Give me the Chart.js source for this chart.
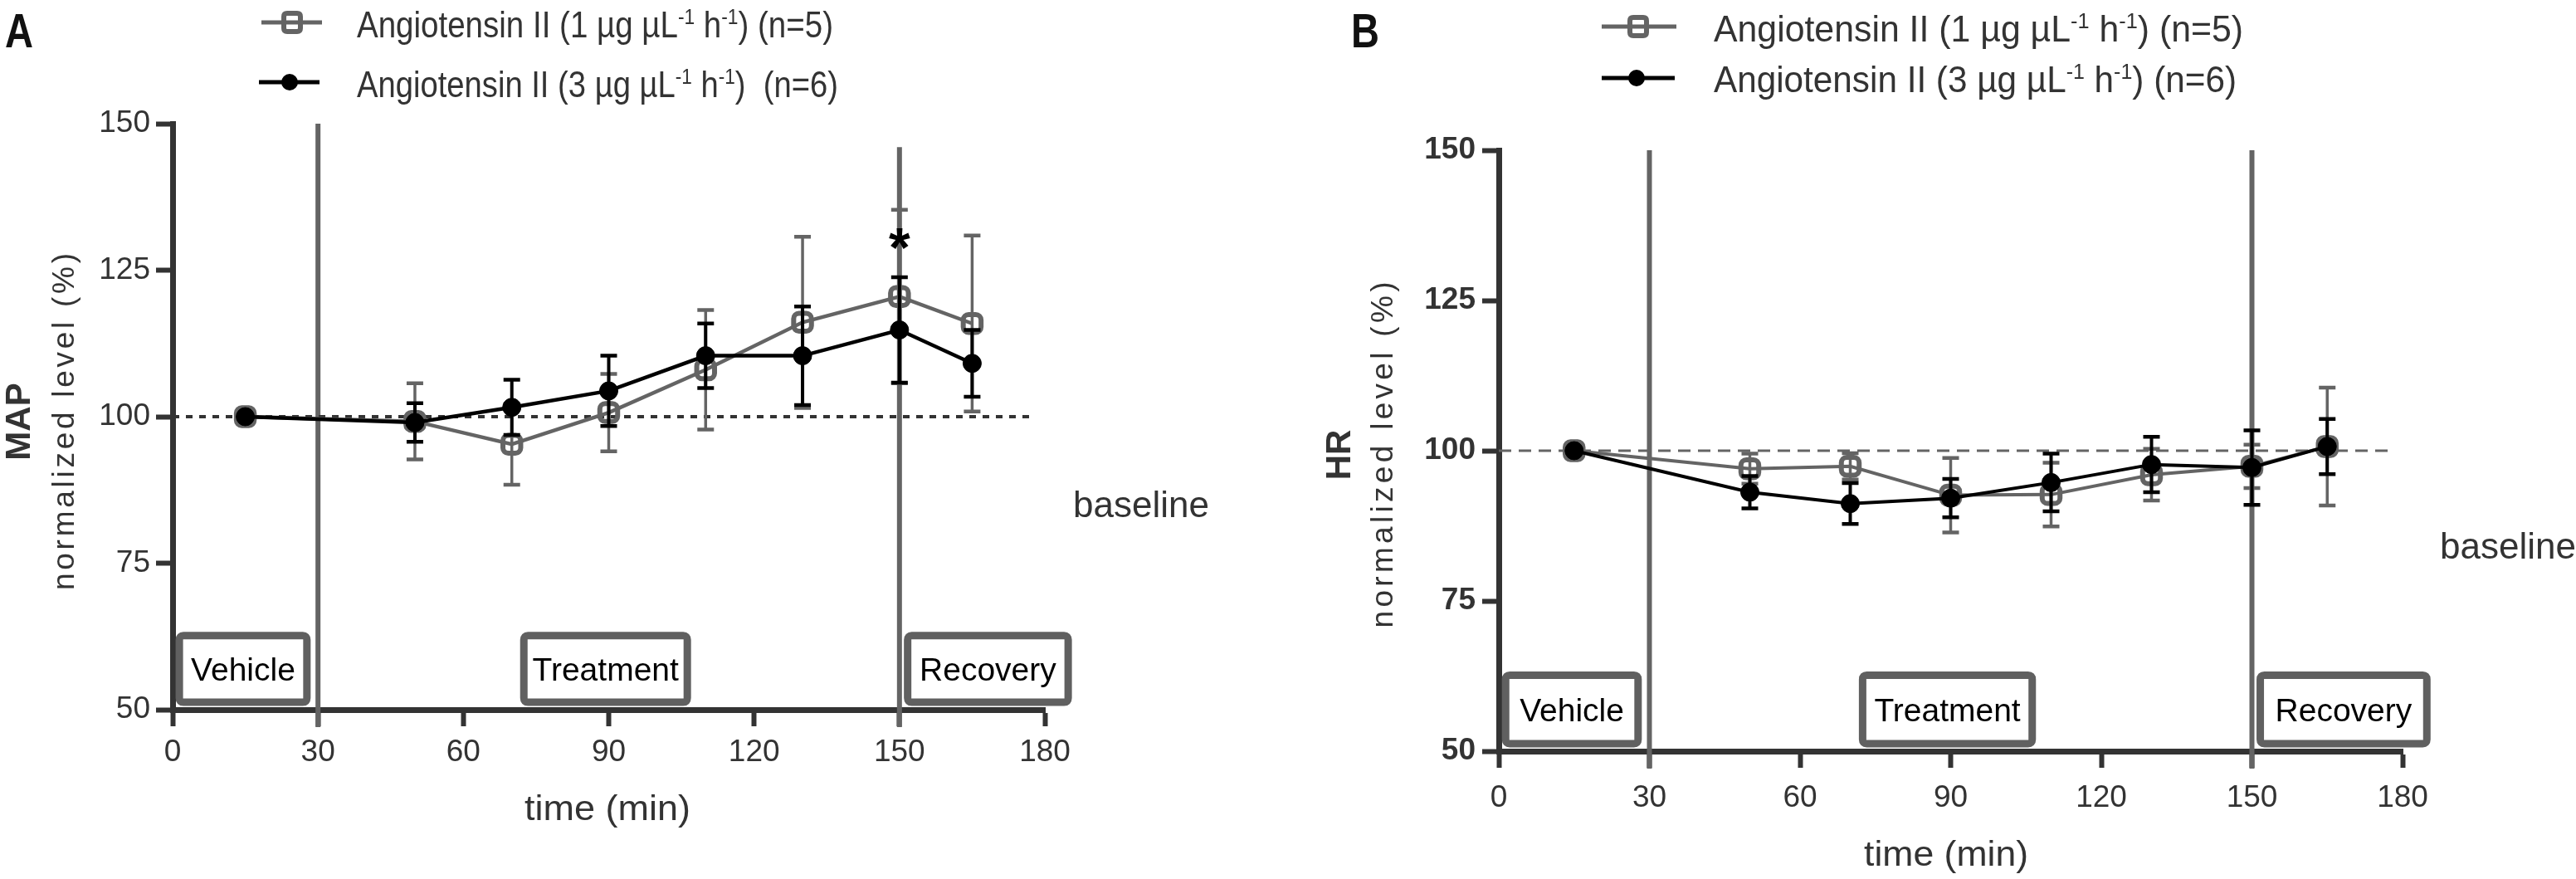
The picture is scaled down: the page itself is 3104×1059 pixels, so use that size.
<!DOCTYPE html>
<html><head><meta charset="utf-8">
<script src="https://cdn.jsdelivr.net/npm/chart.js@4.4.1/dist/chart.umd.min.js"></script>
<style>
html,body{margin:0;padding:0;background:#fff;width:3104px;height:1059px;overflow:hidden}
.wrap{position:absolute;top:0;width:1552px;height:1059px}
#wrapA{left:0}
#wrapB{left:1552px}
canvas{display:block}
</style></head><body>
<div class="wrap" id="wrapA"><canvas id="cA" width="1552" height="1059"></canvas></div>
<div class="wrap" id="wrapB"><canvas id="cB" width="1552" height="1059"></canvas></div>
<script>
// ---------- data ----------
const times = [15, 50, 70, 90, 110, 130, 150, 165];
const xTicks = [0, 30, 60, 90, 120, 150, 180];
const yTicks = [50, 75, 100, 125, 150];

// Panel A: MAP
const mapLow = [100, 99.2, 95.3, 100.7, 108.0, 116.1, 120.5, 115.9];
const mapLowSem = [0, 6.5, 6.9, 6.6, 10.2, 14.6, 14.8, 15.0];
const mapHigh = [100, 99.0, 101.6, 104.4, 110.4, 110.4, 114.8, 109.1];
const mapHighSem = [0, 3.3, 4.7, 6.0, 5.5, 8.4, 9.0, 5.7];

// Panel B: HR
const hrLow = [100, 97.0, 97.4, 92.6, 92.7, 96.0, 97.4, 100.7];
const hrLowSem = [0, 2.5, 2.2, 6.2, 5.3, 4.3, 3.6, 9.8];
const hrHigh = [100, 93.1, 91.2, 92.1, 94.7, 97.7, 97.2, 100.7];
const hrHighSem = [0, 2.7, 3.4, 3.2, 4.8, 4.6, 6.2, 4.6];

const labelsA = ['Angiotensin II (1 µg µL⁻¹ h⁻¹) (n=5)', 'Angiotensin II (3 µg µL⁻¹ h⁻¹)  (n=6)'];
const labelsB = ['Angiotensin II (1 µg µL⁻¹ h⁻¹) (n=5)', 'Angiotensin II (3 µg µL⁻¹ h⁻¹) (n=6)'];

const phaseNames = ['Vehicle', 'Treatment', 'Recovery'];
const phaseStart = [0.7, 71.8, 151.0];
const phaseEnd = [28.4, 106.9, 185.5];
const phaseBoxLow = 50.7, phaseBoxHigh = 63.2;
const phaseBoundaries = [30, 150];
const boundaryTopA = [150, 146];
const boundaryTopB = [150, 150];

const baselineX = [0, 178];
const baselineY = 100;
const sigTimes = [150];
const sigValues = [130.4];

// ---------- styles ----------
const GRAY = '#646464';
const DARK = '#333333';
const narrow = "'Liberation Sans Narrow', 'Liberation Sans', Arial, sans-serif";
const sans = "'Liberation Sans', Arial, sans-serif";

function richRuns(label) {
  const supMap = {'⁻': '-', '¹': '1'};
  const runs = []; let cur = '', curSup = false;
  for (const ch of label) {
    const s = ch in supMap; const c = s ? supMap[ch] : ch;
    if (cur && s !== curSup) { runs.push({t: cur, sup: curSup}); cur = ''; }
    curSup = s; cur += c;
  }
  if (cur) runs.push({t: cur, sup: curSup});
  return runs;
}
function drawRich(ctx, label, x, y, xEnd, size, color) {
  const runs = richRuns(label);
  const fN = size + 'px ' + sans, fS = Math.round(size * 0.58) + 'px ' + sans;
  let w = 0;
  runs.forEach(r => { ctx.font = r.sup ? fS : fN; r.w = ctx.measureText(r.t).width; w += r.w; });
  const sx = (xEnd - x) / w;
  ctx.save(); ctx.translate(x, y); ctx.scale(sx, 1);
  ctx.fillStyle = color; ctx.textBaseline = 'alphabetic'; ctx.textAlign = 'left';
  let cx = 0;
  runs.forEach(r => { ctx.font = r.sup ? fS : fN; ctx.fillText(r.t, cx, r.sup ? -size * 0.36 : 0); cx += r.w; });
  ctx.restore();
}
function drawFit(ctx, text, cx, y, width, font, color) {
  ctx.save(); ctx.font = font;
  const w = ctx.measureText(text).width; const sx = width / w;
  ctx.translate(cx - width / 2, y); ctx.scale(sx, 1);
  ctx.fillStyle = color; ctx.textAlign = 'left'; ctx.textBaseline = 'alphabetic';
  ctx.fillText(text, 0, 0); ctx.restore();
}
function drawSpacedVertical(ctx, text, cx, cy, len, font, color) {
  ctx.save(); ctx.font = font; ctx.fillStyle = color;
  ctx.translate(cx, cy); ctx.rotate(-Math.PI / 2);
  const chars = [...text]; const ws = chars.map(c => ctx.measureText(c).width);
  const nat = ws.reduce((a, b) => a + b, 0);
  const sp = chars.length > 1 ? (len - nat) / (chars.length - 1) : 0;
  ctx.textAlign = 'left'; ctx.textBaseline = 'middle';
  let x = -len / 2;
  chars.forEach((c, i) => { ctx.fillText(c, x, 0); x += ws[i] + sp; });
  ctx.restore();
}
function roundRectPath(ctx, x, y, w, h, r) {
  ctx.beginPath();
  ctx.moveTo(x + r, y); ctx.lineTo(x + w - r, y); ctx.quadraticCurveTo(x + w, y, x + w, y + r);
  ctx.lineTo(x + w, y + h - r); ctx.quadraticCurveTo(x + w, y + h, x + w - r, y + h);
  ctx.lineTo(x + r, y + h); ctx.quadraticCurveTo(x, y + h, x, y + h - r);
  ctx.lineTo(x, y + r); ctx.quadraticCurveTo(x, y, x + r, y); ctx.closePath();
}
function drawMarker(ctx, ds, x, y) {
  if (ds.pointStyle === 'circle') {
    ctx.beginPath(); ctx.arc(x, y, 10, 0, Math.PI * 2); ctx.fillStyle = ds.pointBorderColor; ctx.fill();
  } else {
    roundRectPath(ctx, x - 10, y - 11, 20, 22, 4);
    ctx.lineWidth = 6; ctx.strokeStyle = ds.pointBorderColor; ctx.stroke();
  }
}

function makeDeco(p) {
  return {
    id: 'deco' + p.id,
    beforeDatasetsDraw(chart) {
      const ctx = chart.ctx, xs = chart.scales.x, ys = chart.scales.y, ca = chart.chartArea;
      ctx.save();
      phaseNames.forEach((name, i) => {
        const x0 = xs.getPixelForValue(phaseStart[i]), x1 = xs.getPixelForValue(phaseEnd[i]);
        const y0 = ys.getPixelForValue(phaseBoxHigh), y1 = ys.getPixelForValue(phaseBoxLow);
        roundRectPath(ctx, x0 + 4, y0 + 4, x1 - x0 - 8, y1 - y0 - 8, 5);
        ctx.fillStyle = '#fff'; ctx.fill();
        ctx.lineWidth = 9; ctx.strokeStyle = '#606060'; ctx.stroke();
        ctx.fillStyle = '#000'; ctx.font = '39px ' + sans; ctx.textAlign = 'center'; ctx.textBaseline = 'alphabetic';
        ctx.fillText(name, (x0 + x1) / 2, (y0 + y1) / 2 + 14);
      });
      phaseBoundaries.forEach((t, i) => {
        const x = xs.getPixelForValue(t);
        ctx.beginPath(); ctx.moveTo(x, ys.getPixelForValue(p.boundaryTop[i])); ctx.lineTo(x, ca.bottom + 21);
        ctx.strokeStyle = GRAY; ctx.lineWidth = 6; ctx.stroke();
      });
      ctx.restore();
    },
    beforeDatasetDraw(chart, args) {
      const ds = chart.data.datasets[args.index];
      if (!ds.errors) return;
      const ctx = chart.ctx, ys = chart.scales.y;
      ctx.save();
      ctx.strokeStyle = ds.borderColor;
      args.meta.data.forEach((pt, i) => {
        const e = ds.errors[i]; if (!e) return;
        const v = ds.data[i].y;
        const yt = ys.getPixelForValue(v + e), yb = ys.getPixelForValue(v - e);
        ctx.lineWidth = ds.errWidth; ctx.beginPath(); ctx.moveTo(pt.x, yt); ctx.lineTo(pt.x, yb); ctx.stroke();
        ctx.lineWidth = 4.5; ctx.beginPath();
        ctx.moveTo(pt.x - 10, yt); ctx.lineTo(pt.x + 10, yt);
        ctx.moveTo(pt.x - 10, yb); ctx.lineTo(pt.x + 10, yb); ctx.stroke();
      });
      ctx.restore();
    },
    afterDraw(chart) {
      const ctx = chart.ctx, xs = chart.scales.x, ys = chart.scales.y;
      ctx.save();
      p.legendRows.forEach(r => {
        const ds = chart.data.datasets[r.ds];
        ctx.beginPath(); ctx.moveTo(r.line[0], r.ly); ctx.lineTo(r.line[1], r.ly);
        ctx.strokeStyle = ds.borderColor; ctx.lineWidth = 5; ctx.stroke();
        drawMarker(ctx, ds, r.mx, r.ly);
        drawRich(ctx, ds.label, r.text[0], r.base, r.text[1], p.legendSize, DARK);
      });
      drawFit(ctx, p.letter, p.letterX + 17, 57, 34, 'bold 58px ' + sans, '#111');
      drawFit(ctx, 'time (min)', p.xtX, p.xtY, p.xtW, '42px ' + sans, DARK);
      ctx.save(); ctx.translate(p.yt1X, p.ytY); ctx.rotate(-Math.PI / 2);
      ctx.font = 'bold 42px ' + sans; ctx.fillStyle = DARK; ctx.textAlign = 'center'; ctx.textBaseline = 'middle';
      ctx.fillText(p.yTitle1, 0, 0); ctx.restore();
      drawSpacedVertical(ctx, 'normalized level (%)', p.yt2X, p.ytY, p.yt2Len, '37px ' + sans, DARK);
      ctx.font = '44px ' + sans; ctx.fillStyle = DARK; ctx.textAlign = 'left'; ctx.textBaseline = 'alphabetic';
      ctx.fillText('baseline', p.baseX, p.baseY);
      if (p.sig) {
        ctx.font = 'bold 66px ' + sans; ctx.fillStyle = '#000'; ctx.textAlign = 'center';
        sigTimes.forEach((t, i) => {
          const m = ctx.measureText('*');
          const cy = ys.getPixelForValue(sigValues[i]);
          ctx.fillText('*', xs.getPixelForValue(t), cy + (m.actualBoundingBoxAscent - m.actualBoundingBoxDescent) / 2);
        });
      }
      ctx.restore();
    }
  };
}

function makeChart(canvasId, p) {
  const datasets = [
    {label: p.labels[1], data: times.map((t, i) => ({x: t, y: p.high[i]})), errors: p.highSem, errWidth: 4,
     borderColor: '#000', backgroundColor: '#000', pointBackgroundColor: '#000', pointBorderColor: '#000',
     borderWidth: p.lw, pointRadius: 11, pointHoverRadius: 11, pointBorderWidth: 1, pointStyle: 'circle', order: 0, tension: 0},
    {label: p.labels[0], data: times.map((t, i) => ({x: t, y: p.low[i]})), errors: p.lowSem, errWidth: 3.5,
     borderColor: GRAY, backgroundColor: 'rgba(0,0,0,0)', pointBackgroundColor: 'rgba(0,0,0,0)', pointBorderColor: GRAY,
     borderWidth: p.lw, pointRadius: 12.5, pointHoverRadius: 12.5, pointBorderWidth: 6, pointStyle: 'rectRounded', order: 1, tension: 0},
    {label: 'baseline', data: baselineX.map(x => ({x, y: baselineY})), borderColor: p.baseColor, borderWidth: p.baseWidth,
     borderDash: p.baseDash, pointRadius: 0, order: 2}
  ];
  return new Chart(document.getElementById(canvasId), {
    type: 'line',
    data: {datasets},
    options: {
      responsive: false, animation: false, devicePixelRatio: 1,
      layout: {padding: {left: 0, top: p.area.top, right: 1552 - p.area.right, bottom: 0}},
      plugins: {legend: {display: false}, tooltip: {enabled: false}},
      scales: {
        x: {type: 'linear', min: 0, max: 180,
          afterBuildTicks: s => { s.ticks = xTicks.map(v => ({value: v})); },
          afterFit: s => { s.height = 1059 - p.area.bottom; },
          ticks: {font: {family: narrow, size: 37, weight: 'normal'}, color: DARK, padding: p.xPad, maxRotation: 0, autoSkip: false},
          grid: {display: true, drawOnChartArea: false, drawTicks: true, tickLength: 20, tickWidth: 6, tickColor: DARK},
          border: {display: true, width: 7, color: DARK}},
        y: {type: 'linear', min: 50, max: 150,
          afterBuildTicks: s => { s.ticks = yTicks.map(v => ({value: v})); },
          afterFit: s => { s.width = p.area.left; },
          ticks: {font: {family: narrow, size: 37, weight: p.yWeight}, color: DARK, padding: p.yPad, autoSkip: false},
          grid: {display: true, drawOnChartArea: false, drawTicks: true, tickLength: 20, tickWidth: 6, tickColor: DARK},
          border: {display: true, width: 7, color: DARK}}
      }
    },
    plugins: [makeDeco(p)]
  });
}

makeChart('cA', {
  id: 'A', labels: labelsA, low: mapLow, lowSem: mapLowSem, high: mapHigh, highSem: mapHighSem,
  area: {left: 208, right: 1259, top: 149, bottom: 855}, lw: 4.5,
  baseColor: DARK, baseWidth: 4, baseDash: [8, 8], xPad: 10, yPad: 7, yWeight: 'normal',
  boundaryTop: boundaryTopA,
  legendRows: [
    {ds: 1, line: [315, 388], mx: 352, ly: 27, text: [430, 1004], base: 45},
    {ds: 0, line: [312, 385], mx: 349, ly: 99, text: [430, 1010], base: 117}
  ], legendSize: 44,
  letter: 'A', letterX: 6, xtX: 732, xtY: 988, xtW: 200,
  yTitle1: 'MAP', yt1X: 24, yt2X: 79, ytY: 508, yt2Len: 406,
  baseX: 1293, baseY: 623, sig: true
});
makeChart('cB', {
  id: 'B', labels: labelsB, low: hrLow, lowSem: hrLowSem, high: hrHigh, highSem: hrHighSem,
  area: {left: 254, right: 1343, top: 181, bottom: 905}, lw: 4,
  baseColor: GRAY, baseWidth: 3, baseDash: [15, 9], xPad: 15, yPad: 8, yWeight: 'bold',
  boundaryTop: boundaryTopB,
  legendRows: [
    {ds: 1, line: [378, 468], mx: 422, ly: 32, text: [513, 1151], base: 50},
    {ds: 0, line: [378, 466], mx: 420, ly: 94, text: [513, 1143], base: 111}
  ], legendSize: 44,
  letter: 'B', letterX: 76, xtX: 793, xtY: 1043, xtW: 198,
  yTitle1: 'HR', yt1X: 63, yt2X: 116, ytY: 548, yt2Len: 417,
  baseX: 1388, baseY: 673, sig: false
});
</script>
</body></html>
